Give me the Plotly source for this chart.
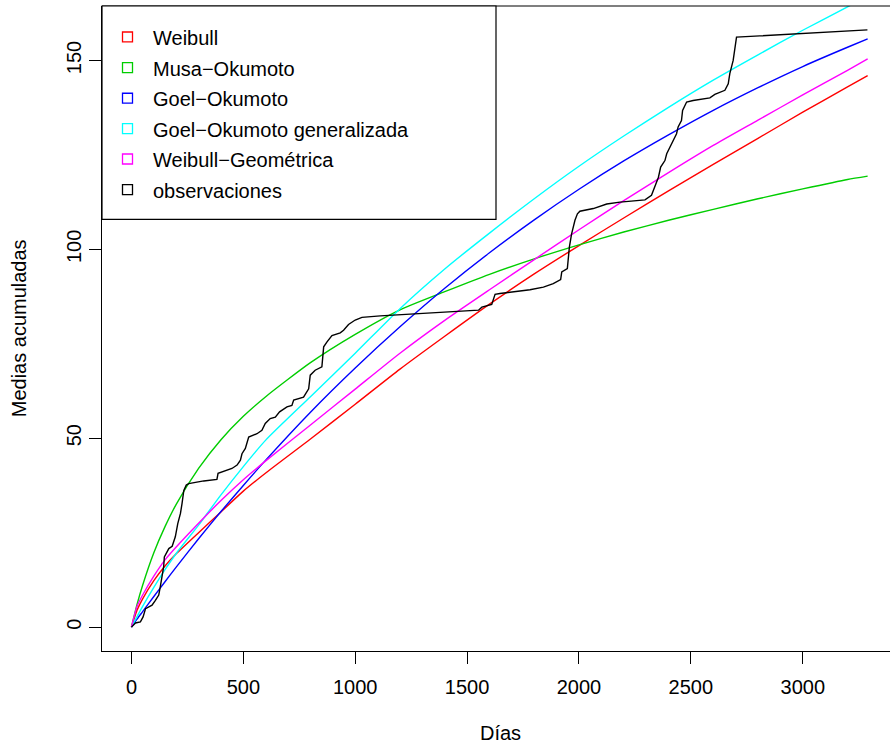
import plotly.graph_objects as go

# ---------------- data ----------------
t_model = [0, 25, 50, 100, 150, 200, 300, 400, 500, 600, 800, 1000, 1200, 1400,
           1600, 1800, 2000, 2200, 2400, 2600, 2800, 3000, 3200, 3290]

weibull = [0, 4.5, 7.5, 12.3, 16.2, 19.4, 25, 30.5, 36, 40.8, 49.8, 59, 68.3, 77,
           85.5, 93.5, 101, 108.3, 115.5, 122.5, 129.4, 136.3, 143, 146]
musa_okumoto = [0, 6, 11.1, 19.7, 26.6, 32.5, 42, 49.6, 55.8, 61, 70, 77.5, 84, 88.8,
                93.4, 97.5, 101.2, 104.6, 107.7, 110.6, 113.4, 116, 118.5, 119.4]
goel_okumoto = [0, 2.1, 4.1, 8.1, 12, 15.9, 23.4, 30.6, 37.5, 44.2, 56.9, 68.6, 79.5, 89.7,
                99.1, 107.8, 115.9, 123.4, 130.3, 136.8, 142.8, 148.4, 153.5, 155.7]
goel_okumoto_gen = [0, 2.8, 5.5, 10.5, 15.2, 19.5, 27, 35, 42.5, 49.5, 61, 72.5, 84.3, 94.8,
                    104.3, 113.4, 122, 130, 137.6, 144.8, 151.5, 158, 164.2, 167]
weibull_geom = [0, 5.5, 8.5, 13.5, 17.8, 21.2, 27.5, 33.5, 39, 44, 53.5, 63, 72.5, 81.2,
                89.3, 97.3, 105.2, 112.9, 120.3, 127.5, 134.2, 140.9, 147.4, 150.4]

obs_t = [0, 18, 40, 52, 63, 92, 107, 122, 129, 137, 144, 147, 167, 182, 196, 207, 219,
         226, 234, 245, 256, 323, 382, 387, 412, 449, 472, 487, 494, 509, 524, 561, 583,
         598, 620, 643, 662, 695, 717, 725, 769, 792, 799, 821, 851, 856, 859, 874, 896,
         933, 948, 970, 1000, 1030, 1112, 1551, 1566, 1610, 1618, 1625, 1647, 1707, 1781,
         1841, 1885, 1918, 1923, 1948, 1952, 1957, 1967, 1982, 1993, 2004, 2064, 2124,
         2183, 2272, 2295, 2324, 2339, 2355, 2365, 2384, 2392, 2406, 2421, 2436, 2443,
         2458, 2463, 2481, 2510, 2585, 2607, 2652, 2667, 2674, 2689, 2696, 2704, 2808, 3289]
obs_y = [0, 1.1, 1.4, 2.7, 4.9, 5.8, 7.1, 8.5, 10.7, 13.3, 16, 18.6, 20.8, 21.4, 23.9,
         27.4, 30.1, 32.7, 36.2, 37.6, 38, 38.7, 39.1, 40.7, 41.3, 42, 42.9, 44.2, 45.9,
         47.3, 50.3, 51.2, 52.1, 53.9, 55.2, 55.6, 57, 58.3, 58.7, 60.1, 60.9, 63.1, 66.7,
         68, 68.9, 71.5, 74.2, 75.5, 77.2, 77.9, 78.6, 80.1, 81.3, 82, 82.4, 83.9, 84.7,
         85.4, 87, 88.1, 88.3, 88.7, 89.3, 90, 90.9, 92, 94, 94.9, 98, 100.6, 104.1, 107.7,
         109.4, 110.1, 110.8, 112, 112.5, 113, 113.1, 114.3, 116.5, 119.1, 121.8, 123.5,
         125.3, 127.1, 128.8, 130.6, 132.4, 134.1, 136.8, 139, 139.4, 140.1, 141, 142.1,
         143.8, 146.5, 150, 153.1, 156.2, 156.5, 158.1]

x_ticks = [0, 500, 1000, 1500, 2000, 2500, 3000]
y_ticks = [0, 50, 100, 150]

legend_labels = ["Weibull", "Musa\u2212Okumoto", "Goel\u2212Okumoto",
                 "Goel\u2212Okumoto generalizada", "Weibull\u2212Geom\u00e9trica",
                 "observaciones"]
colors = ["#FF0000", "#00CD00", "#0000FF", "#00FFFF", "#FF00FF", "#000000"]

# ---------------- layout geometry ----------------
W, H = 890, 745
ML, MR, MT, MB = 102, 0, 5.5, 94
PW, PH = W - ML - MR, H - MT - MB
X0, X1 = -131.6, -131.6 + PW / 0.22377
Y0, Y1 = -6.32, 164.42

def px(xpix):
    return (xpix - ML) / PW

def py(ypix):
    return 1 - (ypix - MT) / PH

FONT = "Liberation Sans, Arial, Helvetica, sans-serif"
LW = 1.4

fig = go.Figure()
models = [weibull, musa_okumoto, goel_okumoto, goel_okumoto_gen, weibull_geom]
for vals, col, name in zip(models, colors[:5], legend_labels[:5]):
    fig.add_trace(go.Scatter(x=t_model, y=vals, mode="lines", name=name,
                             line=dict(color=col, width=LW, shape="spline", smoothing=0.6),
                             showlegend=False, hoverinfo="skip"))
fig.add_trace(go.Scatter(x=obs_t, y=obs_y, mode="lines", name=legend_labels[5],
                         line=dict(color="black", width=LW), showlegend=False,
                         hoverinfo="skip"))

shapes = []
annotations = []
# top border of plot box
shapes.append(dict(type="line", xref="paper", yref="paper", x0=0, x1=1.01, y0=1, y1=1,
                   line=dict(color="black", width=1.2)))
# legend box
shapes.append(dict(type="rect", xref="paper", yref="paper", x0=px(102), x1=px(496),
                   y0=py(219), y1=py(5.5), line=dict(color="black", width=1.2),
                   fillcolor="white", layer="above"))
centers = [36.5, 67.2, 97.8, 128.2, 158.6, 189.2]
for cy, col, lab in zip(centers, colors, legend_labels):
    shapes.append(dict(type="rect", xref="paper", yref="paper",
                       x0=px(122.5), x1=px(132.5), y0=py(cy + 5), y1=py(cy - 5),
                       line=dict(color=col, width=1.3), fillcolor="rgba(0,0,0,0)",
                       layer="above"))
    annotations.append(dict(xref="paper", yref="paper", x=px(151), y=py(cy + 1),
                            text=lab, showarrow=False, xanchor="left", yanchor="middle",
                            font=dict(family=FONT, size=20, color="black")))

# axis titles
annotations.append(dict(xref="paper", yref="paper", x=px(500), y=py(733), text="D\u00edas",
                        showarrow=False, xanchor="center", yanchor="middle",
                        font=dict(family=FONT, size=20, color="black")))
annotations.append(dict(xref="paper", yref="paper", x=px(19), y=py(328),
                        text="Medias acumuladas", textangle=-90, showarrow=False,
                        xanchor="center", yanchor="middle",
                        font=dict(family=FONT, size=20, color="black")))

fig.update_layout(
    width=W, height=H,
    margin=dict(l=ML, r=MR, t=MT, b=MB, autoexpand=False),
    paper_bgcolor="white", plot_bgcolor="white",
    shapes=shapes, annotations=annotations,
    showlegend=False,
    xaxis=dict(range=[X0, X1], tickmode="array", tickvals=x_ticks,
               ticktext=[str(v) for v in x_ticks], showgrid=False, zeroline=False,
               showline=True, linecolor="black", linewidth=1.2,
               ticks="outside", ticklen=12, tickwidth=1.2, tickcolor="black",
               ticklabelstandoff=6,
               tickfont=dict(family=FONT, size=20, color="black")),
    yaxis=dict(range=[Y0, Y1], tickmode="array", tickvals=y_ticks,
               ticktext=[str(v) for v in y_ticks], showgrid=False, zeroline=False,
               showline=True, linecolor="black", linewidth=1.2,
               ticks="outside", ticklen=12, tickwidth=1.2, tickcolor="black",
               tickangle=-90,
               tickfont=dict(family=FONT, size=20, color="black")),
)

fig.write_html("out.html")
